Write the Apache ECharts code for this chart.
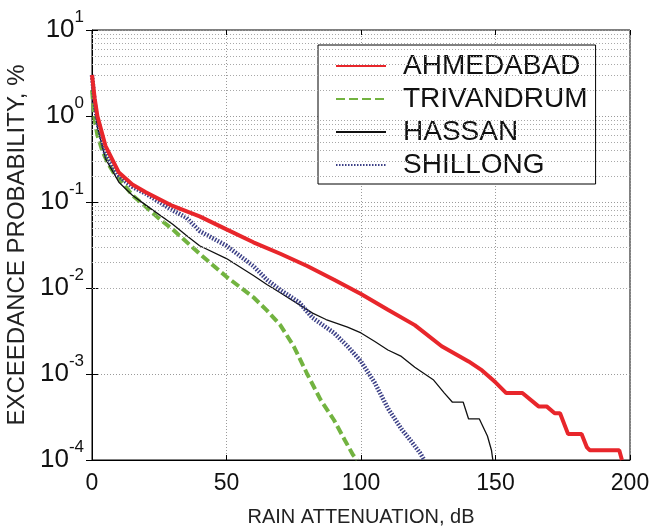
<!DOCTYPE html>
<html>
<head>
<meta charset="utf-8">
<title>Rain attenuation exceedance</title>
<script src="https://cdn.jsdelivr.net/npm/echarts@6/dist/echarts.min.js"></script>
<style>
    html, body { margin: 0; padding: 0; background: #fff; }
    #chart { width: 663px; height: 529px; }
</style>
</head>
<body>
<div id="chart"></div>
<script>
// 衰减值 (dB) 与超过概率 (%)
var ahmedabadDb  = [0, 1, 2, 5, 10, 15, 20, 30, 40, 50, 60, 70, 80, 90, 100, 110, 120, 130, 140, 145, 150, 154, 160, 166, 169, 172, 174, 177, 182, 184, 185, 196, 197];
var ahmedabadPct = [3.0, 1.6, 1.0, 0.45, 0.22, 0.16, 0.13, 0.09, 0.068, 0.048, 0.034, 0.025, 0.018, 0.0125, 0.0085, 0.0056, 0.0037, 0.0021, 0.0014, 0.0011, 0.0008, 0.0006, 0.0006, 0.00042, 0.00042, 0.00035, 0.00035, 0.0002, 0.0002, 0.00014, 0.00013, 0.00013, 0.0001];

var trivandrumDb  = [0, 1, 2, 4, 6, 8, 10, 15, 20, 25, 30, 40, 50, 60, 65, 70, 75, 80, 85, 90, 94, 97, 98.5];
var trivandrumPct = [2.0, 0.9, 0.6, 0.38, 0.28, 0.22, 0.19, 0.12, 0.088, 0.064, 0.048, 0.025, 0.0135, 0.0078, 0.0055, 0.0037, 0.0021, 0.001, 0.0005, 0.00029, 0.00017, 0.000115, 0.0001];

var hassanDb  = [0, 1, 2, 5, 10, 15, 20, 30, 35, 40, 50, 60, 65, 70, 77, 82, 87, 95, 100, 105, 110, 115, 120, 127, 131, 134, 138, 140, 144, 147, 148.5, 149];
var hassanPct = [3.0, 1.3, 0.75, 0.32, 0.17, 0.12, 0.092, 0.055, 0.041, 0.031, 0.022, 0.014, 0.011, 0.0088, 0.0064, 0.0051, 0.0043, 0.0035, 0.003, 0.0024, 0.0019, 0.0016, 0.0012, 0.00085, 0.0006, 0.00047, 0.00047, 0.0003, 0.0003, 0.00019, 0.00013, 0.0001];

var shillongDb  = [0, 1, 2, 5, 10, 15, 20, 30, 35, 40, 50, 60, 65, 70, 77, 82, 90, 95, 100, 105, 110, 115, 119, 122, 123.5];
var shillongPct = [3.0, 1.4, 0.85, 0.36, 0.2, 0.15, 0.125, 0.08, 0.066, 0.046, 0.031, 0.018, 0.0125, 0.0095, 0.0068, 0.0045, 0.003, 0.0021, 0.0014, 0.0008, 0.0004, 0.00023, 0.00016, 0.00012, 0.0001];

var seriesNames = ['AHMEDABAD', 'TRIVANDRUM', 'HASSAN', 'SHILLONG'];
var xTicks = [0, 50, 100, 150, 200];

// 对数坐标次网格线 2..9 × 10^n
var minorGrid = [];
for (var e = -4; e <= 0; e++) {
    for (var m = 2; m <= 9; m++) {
        minorGrid.push(m * Math.pow(10, e));
    }
}

function zip(xs, ys) {
    return xs.map(function (x, i) { return [x, ys[i]]; });
}

var gridLine = { show: true, lineStyle: { color: '#9a9a9a', type: [1, 2], width: 1 } };
var font = 'Liberation Sans, Arial, sans-serif';

var chart = echarts.init(document.getElementById('chart'));
var option = {
    animation: false,
    backgroundColor: '#fff',
    textStyle: { fontFamily: font },
    grid: {
        left: 92, right: 33, top: 30, bottom: 69,
        outerBoundsMode: 'none',
        containLabel: false,
        show: true, borderColor: '#000', borderWidth: 1, backgroundColor: 'transparent'
    },
    legend: {
        data: seriesNames,
        orient: 'vertical',
        left: 318, top: 45,
        padding: [6, 8, 4, 17],
        itemWidth: 50, itemHeight: 14, itemGap: 3,
        backgroundColor: '#fff',
        borderColor: '#000', borderWidth: 1,
        itemStyle: { opacity: 0, borderWidth: 0 },
        textStyle: { fontSize: 28, color: '#111', fontFamily: font, padding: [0, 0, 0, 12], lineHeight: 30 }
    },
    xAxis: [{
        type: 'value',
        min: 0, max: 200, interval: 50,
        name: 'RAIN ATTENUATION, dB',
        nameLocation: 'middle', nameGap: 47,
        nameTextStyle: { fontSize: 20, color: '#222' },
        axisLine: { show: true, lineStyle: { color: '#000' } },
        axisTick: { show: true, inside: true, length: 5, lineStyle: { color: '#000' } },
        axisLabel: {
            fontSize: 23, color: '#111', margin: 12,
            formatter: function (v) { return xTicks.indexOf(v) >= 0 ? String(v) : ''; }
        },
        splitLine: gridLine
    }, {
        type: 'value', position: 'top',
        min: 0, max: 200, interval: 50,
        axisLine: { show: false },
        axisTick: { show: true, inside: true, length: 5, lineStyle: { color: '#000' } },
        axisLabel: { show: false },
        splitLine: { show: false }
    }],
    yAxis: [{
        type: 'log', logBase: 10,
        min: 0.0001, max: 10,
        name: 'EXCEEDANCE PROBABILITY, %',
        nameLocation: 'middle', nameGap: 53,
        nameTextStyle: { fontSize: 24, color: '#222' },
        axisLine: { show: true, lineStyle: { color: '#000' } },
        axisTick: { show: true, inside: true, length: 6, lineStyle: { color: '#000' } },
        axisLabel: {
            margin: 8,
            formatter: function (v) {
                var p = Math.round(Math.log10(v));
                return '{b|10}{s|' + p + '}';
            },
            rich: {
                b: { fontSize: 26, lineHeight: 26, color: '#111', padding: [8, 0, 8, 0], fontFamily: font },
                s: { fontSize: 17, lineHeight: 17, color: '#111', padding: [0, 0, 25, 0], fontFamily: font }
            }
        },
        splitLine: gridLine
    }, {
        type: 'log', logBase: 10, position: 'right',
        min: 0.0001, max: 10,
        axisLine: { show: false },
        axisTick: { show: true, inside: true, length: 6, lineStyle: { color: '#000' } },
        axisLabel: { show: false },
        splitLine: { show: false }
    }],
    series: [{
        // 次网格线
        name: 'minor-grid',
        type: 'line',
        data: [],
        z: 1,
        silent: true,
        markLine: {
            silent: true,
            symbol: 'none',
            label: { show: false },
            lineStyle: { color: '#a8a8a8', type: [1, 2], width: 1 },
            data: minorGrid.map(function (v) { return { yAxis: v }; })
        }
    }, {
        name: 'AHMEDABAD',
        type: 'line',
        data: zip(ahmedabadDb, ahmedabadPct),
        symbol: 'none',
        z: 5,
        color: '#e8262b',
        lineStyle: { width: 4, color: '#e8262b' }
    }, {
        name: 'TRIVANDRUM',
        type: 'line',
        data: zip(trivandrumDb, trivandrumPct),
        symbol: 'none',
        z: 3,
        color: '#72b340',
        lineStyle: { width: 4, color: '#72b340', type: [9, 4] }
    }, {
        name: 'HASSAN',
        type: 'line',
        data: zip(hassanDb, hassanPct),
        symbol: 'none',
        z: 4,
        color: '#111',
        lineStyle: { width: 1.3, color: '#111' }
    }, {
        name: 'SHILLONG',
        type: 'line',
        data: zip(shillongDb, shillongPct),
        symbol: 'none',
        z: 4,
        color: '#3b3f86',
        lineStyle: { width: 4.5, color: '#3b3f86', type: [1.5, 1.5] }
    }]
};
if (option && typeof option === 'object') {
    chart.setOption(option, true);
}
</script>
</body>
</html>
